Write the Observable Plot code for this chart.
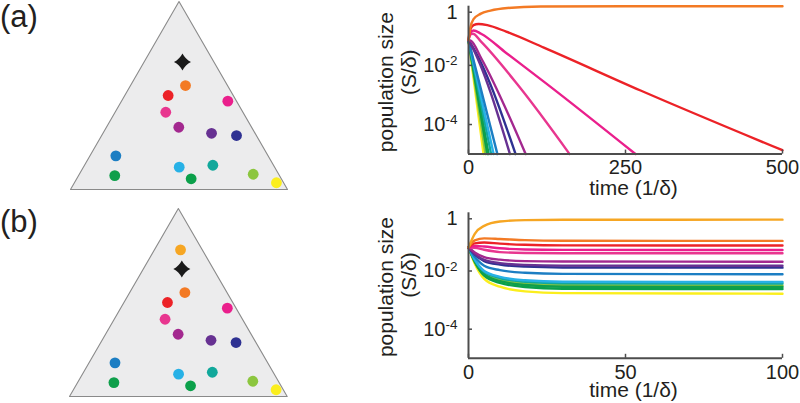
<!DOCTYPE html>
<html><head><meta charset="utf-8">
<script src="https://cdn.jsdelivr.net/npm/d3@7"></script>
<script src="https://cdn.jsdelivr.net/npm/@observablehq/plot@0.6"></script>
<style>
body{margin:0;background:#fff;}
#root{position:relative;width:800px;height:403px;overflow:hidden;font-family:"Liberation Sans",Arial,sans-serif;color:#231f20;}
.box{position:absolute;}
.tag{position:absolute;font-size:31px;line-height:1.1;color:#231f20;}
</style></head><body>
<div id="root"></div>
<script>
// ---------- data ----------
const speciesNames  = ["gold","orange","red","pink","rose","violet","purple","navy","blue","sky","teal","greenL","green","lime","yellow"];
const speciesColors = ["#f6a623","#f37a24","#ec2227","#ea1f8c","#e8368f","#a3288f","#673192","#2e3192","#1c7ec3","#27b1e6","#11a89b","#0f9f4b","#0ba04a","#8cc63f","#fbee1d"];
// positions inside the simplex (u: left->right, v: base->apex)
const dotU = [0.510,0.530,0.450,0.725,0.439,0.499,0.650,0.765,0.209,0.501,0.656,0.204,0.556,0.842,0.949];
const dotV = [0.780,0.553,0.500,0.470,0.411,0.331,0.299,0.287,0.179,0.119,0.129,0.074,0.057,0.081,0.036];
const starU = [0.516], starV = [0.678];
const triangleU = [0, 0.5, 1, 0];
const triangleV = [0, 1, 0, 0];
const panelASpecies = speciesNames.slice(1);   // (a) has no gold species
const panelBSpecies = speciesNames;

// (a) time courses: [time, log10(S/δ)]
const a_orange = [[0,-1.15],[3,-0.72],[8,-0.44],[19,-0.26],[35,-0.15],[62,-0.06],[115,-0.01],[250,0],[500,0]];
const a_red    = [[0,-1.15],[3,-0.78],[8,-0.64],[16,-0.6],[30,-0.64],[60,-0.86],[120,-1.4],[274,-2.85],[500,-4.87]];
const a_pink   = [[0,-1.15],[3,-0.9],[8,-0.82],[20,-0.93],[60,-1.58],[123,-2.6],[266,-5.0]];
const a_rose   = [[0,-1.15],[3,-0.96],[7,-0.93],[20,-1.2],[80,-2.7],[161,-5.0]];
const a_violet = [[0,-1.15],[4,-1.17],[20,-1.75],[91,-5.0]];
const a_purple = [[0,-1.15],[4,-1.3],[66,-5.0]];
const a_navy   = [[0,-1.15],[4,-1.28],[75,-5.0]];
const a_blue   = [[0,-1.15],[46,-5.0]];
const a_sky    = [[0,-1.15],[40,-5.0]];
const a_teal   = [[0,-1.15],[36,-5.0]];
const a_greenL = [[0,-1.15],[32,-5.0]];
const a_green  = [[0,-1.15],[30,-5.0]];
const a_lime   = [[0,-1.15],[27,-5.0]];
const a_yellow = [[0,-1.15],[24,-5.0]];

// (b) time courses: [time, log10(S/δ)]
const b_gold   = [[0,-1.19],[2,-0.72],[5,-0.45],[10,-0.3],[18,-0.25],[30,-0.24],[100,-0.236]];
const b_orange = [[0,-1.19],[2,-0.95],[5,-0.88],[10,-0.9],[18,-0.94],[30,-0.96],[100,-0.966]];
const b_red    = [[0,-1.19],[2,-1.05],[5,-1.02],[10,-1.06],[18,-1.1],[30,-1.12],[100,-1.125]];
const b_pink   = [[0,-1.19],[2,-1.14],[5,-1.16],[10,-1.22],[18,-1.26],[30,-1.275],[100,-1.28]];
const b_rose   = [[0,-1.19],[2,-1.2],[5,-1.27],[10,-1.35],[18,-1.38],[30,-1.39],[100,-1.39]];
const b_violet = [[0,-1.19],[2,-1.36],[5,-1.52],[10,-1.61],[18,-1.66],[30,-1.675],[100,-1.68]];
const b_purple = [[0,-1.19],[2,-1.41],[5,-1.62],[10,-1.73],[18,-1.79],[30,-1.814],[100,-1.82]];
const b_navy   = [[0,-1.19],[2,-1.43],[5,-1.66],[10,-1.78],[18,-1.85],[30,-1.878],[100,-1.885]];
const b_blue   = [[0,-1.19],[2,-1.51],[5,-1.82],[10,-1.97],[18,-2.06],[30,-2.1],[100,-2.11]];
const b_sky    = [[0,-1.19],[2,-1.61],[5,-2.0],[10,-2.2],[18,-2.32],[30,-2.37],[100,-2.38]];
const b_teal   = [[0,-1.19],[2,-1.62],[5,-2.03],[10,-2.24],[18,-2.37],[30,-2.42],[100,-2.43]];
const b_greenL = [[0,-1.19],[2,-1.67],[5,-2.11],[10,-2.35],[18,-2.48],[30,-2.54],[100,-2.55]];
const b_green  = [[0,-1.19],[2,-1.69],[5,-2.16],[10,-2.41],[18,-2.55],[30,-2.61],[100,-2.62]];
const b_lime   = [[0,-1.19],[2,-1.65],[5,-2.08],[10,-2.3],[18,-2.43],[30,-2.49],[100,-2.5]];
const b_yellow = [[0,-1.19],[2,-1.75],[5,-2.27],[10,-2.54],[18,-2.7],[30,-2.76],[100,-2.78]];

const xTicksA = [0, 250, 500], xDomainA = [0, 500];
const xTicksB = [0, 50, 100],  xDomainB = [0, 100];
const yTicksTop = [1], yTicksLow = [1e-2, 1e-4], yDomain = [1e-5, 1];
const xLabel = "time (1/δ)", yLabel1 = "population size", yLabel2 = "(S/δ)";
const tags = ["(a)", "(b)"];

// ---------- build ----------
const FONT = '"Liberation Sans", Arial, sans-serif';
const AXIS = "#4d4d4d", INK = "#231f20";
const colorOf = Object.fromEntries(speciesNames.map((s, i) => [s, speciesColors[i]]));

const seriesA = {yellow:a_yellow, lime:a_lime, green:a_green, greenL:a_greenL, teal:a_teal, sky:a_sky, blue:a_blue,
  navy:a_navy, purple:a_purple, violet:a_violet, rose:a_rose, pink:a_pink, red:a_red, orange:a_orange};
const seriesB = {yellow:b_yellow, green:b_green, lime:b_lime, greenL:b_greenL, teal:b_teal, sky:b_sky, blue:b_blue,
  navy:b_navy, purple:b_purple, violet:b_violet, rose:b_rose, pink:b_pink, red:b_red, orange:b_orange, gold:b_gold};
const rows = (ser) => Object.entries(ser).flatMap(([s, pts]) => pts.map(([t, e]) => ({s, t, v: Math.pow(10, e)})));

const star4 = {
  draw(ctx, size) {
    const R = Math.sqrt(size / Math.PI), c = R * 0.34;
    ctx.moveTo(0, -R);
    ctx.quadraticCurveTo(c, -c, R, 0);
    ctx.quadraticCurveTo(c, c, 0, R);
    ctx.quadraticCurveTo(-c, c, -R, 0);
    ctx.quadraticCurveTo(-c, -c, 0, -R);
    ctx.closePath();
  }
};

function place(node, left, top) {
  const d = document.createElement("div");
  d.className = "box"; d.style.left = left + "px"; d.style.top = top + "px";
  d.appendChild(node); document.getElementById("root").appendChild(d);
}

function simplexPlot(names, m) {
  const dots = names.map(s => { const i = speciesNames.indexOf(s); return {s, u: dotU[i], v: dotV[i]}; });
  const tri = triangleU.map((u, i) => ({u, v: triangleV[i]}));
  return Plot.plot({
    width: 300, height: m.h, marginLeft: m.l, marginRight: m.r, marginTop: m.t, marginBottom: m.b,
    x: {domain: [0, 1], axis: null}, y: {domain: [0, 1], axis: null},
    style: {background: "transparent", overflow: "visible"},
    marks: [
      Plot.line(tri, {x: "u", y: "v", fill: "#ececed", stroke: "#8a8a8a", strokeWidth: 1.1, curve: "linear"}),
      Plot.dot(dots, {x: "u", y: "v", r: 5.4, fill: d => colorOf[d.s], stroke: null}),
      Plot.dot(starU.map((u, i) => ({u, v: starV[i]})), {x: "u", y: "v", r: 8.5, symbol: star4, fill: "#1a1a1a", stroke: null})
    ]
  });
}

function supers(svg) {
  const ns = "http://www.w3.org/2000/svg";
  svg.querySelectorAll("text").forEach(t => {
    const m = /^10\^(.+)$/.exec(t.textContent);
    if (!m) return;
    t.textContent = "";
    const a = document.createElementNS(ns, "tspan"); a.textContent = "10";
    const b = document.createElementNS(ns, "tspan"); b.textContent = m[1];
    b.setAttribute("dy", "-6.5"); b.setAttribute("font-size", "13.5");
    t.append(a, b);
  });
}

function timePlot(ser, xDomain, xTicks, m) {
  const yFmt = d => d === 1 ? "1" : `10^${Math.round(Math.log10(d))}`;
  const svg = Plot.plot({
    width: 430, height: 200, marginLeft: 98, marginRight: 18, marginTop: m.t, marginBottom: m.b,
    x: {domain: xDomain}, y: {type: "log", domain: yDomain},
    color: {domain: speciesNames, range: speciesColors},
    style: {background: "transparent", overflow: "visible", fontFamily: FONT, fontSize: "20px", color: INK},
    marks: [
      Plot.line(rows(ser), {x: "t", y: "v", z: "s", stroke: "s", strokeWidth: 2.4, curve: "monotone-x"}),
      Plot.ruleX([xDomain[0]], {stroke: AXIS, strokeWidth: 2}),
      Plot.ruleY([yDomain[0]], {stroke: AXIS, strokeWidth: 2}),
      Plot.axisX({ticks: xTicks, tickFormat: d => String(d), tickSize: -4, tickPadding: 10, stroke: AXIS, strokeWidth: 1.5, fill: INK, fontSize: 20, label: null}),
      Plot.axisY({ticks: yTicksTop, tickFormat: yFmt, tickSize: -4, tickPadding: 15, stroke: AXIS, strokeWidth: 1.5, fill: INK, fontSize: 20, dy: 6, label: null}),
      Plot.axisY({ticks: yTicksLow, tickFormat: yFmt, tickSize: -4, tickPadding: 15, stroke: AXIS, strokeWidth: 1.5, fill: INK, fontSize: 20, label: null}),
      Plot.text([xLabel], {frameAnchor: "bottom", text: d => d, dx: 8, dy: m.xl, textAnchor: "middle", lineAnchor: "middle", fontSize: 21, fill: INK}),
      Plot.text([yLabel1], {frameAnchor: "left", text: d => d, rotate: -90, dx: -82, dy: m.y1, textAnchor: "middle", lineAnchor: "middle", fontSize: 21, fill: INK}),
      Plot.text([yLabel2], {frameAnchor: "left", text: d => d, rotate: -90, dx: -59.5, dy: m.y2, textAnchor: "middle", lineAnchor: "middle", fontSize: 21, fill: INK})
    ]
  });
  supers(svg);
  return svg;
}

place(simplexPlot(panelASpecies, {h: 200, l: 70, r: 13, t: 1, b: 11}), 0, 0);
place(simplexPlot(panelBSpecies, {h: 203, l: 69, r: 13.3, t: 8, b: 7}), 0, 200);
place(timePlot(seriesA, xDomainA, xTicksA, {t: 5.7, b: 46.4, xl: 34, y1: 2, y2: -8}), 370, 0);
place(timePlot(seriesB, xDomainB, xTicksB, {t: 12.3, b: 42.2, xl: 32, y1: 1.5, y2: -10.5}), 370, 200);

tags.forEach((s, i) => {
  const d = document.createElement("div");
  d.className = "tag"; d.textContent = s;
  d.style.left = "0px"; d.style.top = (i === 0 ? 0 : 205) + "px";
  document.getElementById("root").appendChild(d);
});
</script>
</body></html>
